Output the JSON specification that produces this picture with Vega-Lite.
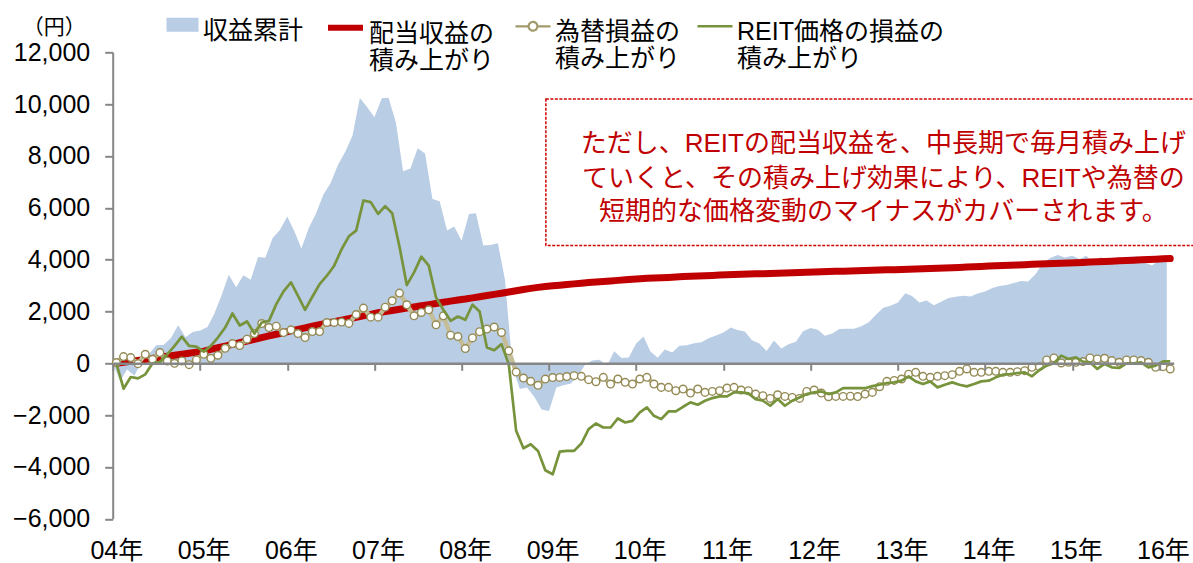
{
  "$schema": "https://vega.github.io/schema/vega-lite/v6.json",
  "width": 1061,
  "height": 466.5,
  "autosize": {"type": "none"},
  "padding": {"left": 112.7, "top": 52.3, "right": 19.3, "bottom": 44.2},
  "background": "white",
  "config": {
    "view": {"stroke": null},
    "font": "Liberation Sans, Noto Sans CJK JP",
    "legend": {
      "orient": "none", "direction": "horizontal", "title": null, "padding": 0,
      "labelOffset": 3, "labelLimit": 0, "labelFont": "Liberation Sans, Noto Sans CJK JP",
      "labelFontSize": 25, "labelColor": "#000000", "labelBaseline": "top", "symbolSize": 1225
    }
  },
  "datasets": {
    "m": [
      {"d":"2004-01","a":30,"r":0,"t":30,"g":0},
      {"d":"2004-02","a":-682,"r":40,"t":258,"g":-980},
      {"d":"2004-03","a":-235,"r":75,"t":219,"g":-529},
      {"d":"2004-04","a":-483,"r":110,"t":-13,"g":-580},
      {"d":"2004-05","a":72,"r":150,"t":348,"g":-426},
      {"d":"2004-06","a":345,"r":190,"t":155,"g":0},
      {"d":"2004-07","a":695,"r":230,"t":413,"g":52},
      {"d":"2004-08","a":708,"r":270,"t":90,"g":348},
      {"d":"2004-09","a":981,"r":310,"t":0,"g":671},
      {"d":"2004-10","a":1472,"r":350,"t":90,"g":1032},
      {"d":"2004-11","a":1009,"r":390,"t":-52,"g":671},
      {"d":"2004-12","a":1204,"r":430,"t":129,"g":645},
      {"d":"2005-01","a":1270,"r":470,"t":348,"g":452},
      {"d":"2005-02","a":1400,"r":535,"t":194,"g":671},
      {"d":"2005-03","a":1903,"r":600,"t":310,"g":993},
      {"d":"2005-04","a":2625,"r":665,"t":580,"g":1380},
      {"d":"2005-05","a":3413,"r":730,"t":761,"g":1922},
      {"d":"2005-06","a":2937,"r":795,"t":684,"g":1458},
      {"d":"2005-07","a":3401,"r":860,"t":929,"g":1612},
      {"d":"2005-08","a":3221,"r":925,"t":1148,"g":1148},
      {"d":"2005-09","a":4099,"r":990,"t":1535,"g":1574},
      {"d":"2005-10","a":4073,"r":1055,"t":1380,"g":1638},
      {"d":"2005-11","a":4835,"r":1120,"t":1432,"g":2283},
      {"d":"2005-12","a":5145,"r":1185,"t":1187,"g":2773},
      {"d":"2006-01","a":5662,"r":1250,"t":1290,"g":3122},
      {"d":"2006-02","a":5064,"r":1310,"t":1148,"g":2606},
      {"d":"2006-03","a":4427,"r":1370,"t":993,"g":2064},
      {"d":"2006-04","a":5223,"r":1430,"t":1226,"g":2567},
      {"d":"2006-05","a":5773,"r":1490,"t":1226,"g":3057},
      {"d":"2006-06","a":6504,"r":1550,"t":1574,"g":3380},
      {"d":"2006-07","a":6951,"r":1610,"t":1574,"g":3767},
      {"d":"2006-08","a":7655,"r":1665,"t":1590,"g":4400},
      {"d":"2006-09","a":8160,"r":1720,"t":1540,"g":4900},
      {"d":"2006-10","a":8779,"r":1775,"t":1883,"g":5121},
      {"d":"2006-11","a":10241,"r":1830,"t":2129,"g":6282},
      {"d":"2006-12","a":9888,"r":1890,"t":1780,"g":6218},
      {"d":"2007-01","a":9496,"r":1950,"t":1780,"g":5766},
      {"d":"2007-02","a":10225,"r":1995,"t":2167,"g":6063},
      {"d":"2007-03","a":10244,"r":2040,"t":2412,"g":5792},
      {"d":"2007-04","a":9294,"r":2085,"t":2709,"g":4500},
      {"d":"2007-05","a":7407,"r":2130,"t":2258,"g":3019},
      {"d":"2007-06","a":7516,"r":2175,"t":1832,"g":3509},
      {"d":"2007-07","a":8296,"r":2220,"t":1961,"g":4115},
      {"d":"2007-08","a":8096,"r":2265,"t":2064,"g":3767},
      {"d":"2007-09","a":6335,"r":2310,"t":1484,"g":2541},
      {"d":"2007-10","a":6251,"r":2355,"t":1832,"g":2064},
      {"d":"2007-11","a":5122,"r":2400,"t":1084,"g":1638},
      {"d":"2007-12","a":5278,"r":2440,"t":1032,"g":1806},
      {"d":"2008-01","a":4725,"r":2480,"t":568,"g":1677},
      {"d":"2008-02","a":5763,"r":2525,"t":980,"g":2258},
      {"d":"2008-03","a":5790,"r":2570,"t":1220,"g":2000},
      {"d":"2008-04","a":4545,"r":2615,"t":1320,"g":610},
      {"d":"2008-05","a":4560,"r":2660,"t":1400,"g":500},
      {"d":"2008-06","a":4635,"r":2705,"t":1190,"g":740},
      {"d":"2008-07","a":3200,"r":2750,"t":480,"g":-30},
      {"d":"2008-08","a":-146,"r":2800,"t":-340,"g":-2606},
      {"d":"2008-09","a":-995,"r":2850,"t":-568,"g":-3277},
      {"d":"2008-10","a":-929,"r":2890,"t":-697,"g":-3122},
      {"d":"2008-11","a":-1300,"r":2930,"t":-850,"g":-3380},
      {"d":"2008-12","a":-1778,"r":2960,"t":-610,"g":-4128},
      {"d":"2009-01","a":-1843,"r":2990,"t":-550,"g":-4283},
      {"d":"2009-02","a":-936,"r":3015,"t":-545,"g":-3406},
      {"d":"2009-03","a":-850,"r":3040,"t":-510,"g":-3380},
      {"d":"2009-04","a":-792,"r":3065,"t":-477,"g":-3380},
      {"d":"2009-05","a":-509,"r":3090,"t":-503,"g":-3096},
      {"d":"2009-06","a":-58,"r":3115,"t":-632,"g":-2541},
      {"d":"2009-07","a":108,"r":3140,"t":-710,"g":-2322},
      {"d":"2009-08","a":141,"r":3160,"t":-542,"g":-2477},
      {"d":"2009-09","a":-97,"r":3180,"t":-800,"g":-2477},
      {"d":"2009-10","a":466,"r":3200,"t":-606,"g":-2128},
      {"d":"2009-11","a":202,"r":3220,"t":-735,"g":-2283},
      {"d":"2009-12","a":226,"r":3245,"t":-800,"g":-2219},
      {"d":"2010-01","a":763,"r":3265,"t":-606,"g":-1896},
      {"d":"2010-02","a":1035,"r":3280,"t":-542,"g":-1703},
      {"d":"2010-03","a":465,"r":3290,"t":-800,"g":-2025},
      {"d":"2010-04","a":217,"r":3300,"t":-929,"g":-2154},
      {"d":"2010-05","a":528,"r":3315,"t":-929,"g":-1858},
      {"d":"2010-06","a":414,"r":3330,"t":-1058,"g":-1858},
      {"d":"2010-07","a":675,"r":3345,"t":-993,"g":-1677},
      {"d":"2010-08","a":698,"r":3355,"t":-1148,"g":-1509},
      {"d":"2010-09","a":772,"r":3365,"t":-993,"g":-1600},
      {"d":"2010-10","a":808,"r":3375,"t":-1122,"g":-1445},
      {"d":"2010-11","a":964,"r":3390,"t":-1084,"g":-1342},
      {"d":"2010-12","a":1070,"r":3405,"t":-1058,"g":-1277},
      {"d":"2011-01","a":1188,"r":3420,"t":-955,"g":-1277},
      {"d":"2011-02","a":1379,"r":3430,"t":-929,"g":-1122},
      {"d":"2011-03","a":1286,"r":3440,"t":-1032,"g":-1122},
      {"d":"2011-04","a":1231,"r":3450,"t":-1058,"g":-1161},
      {"d":"2011-05","a":888,"r":3455,"t":-1187,"g":-1380},
      {"d":"2011-06","a":764,"r":3460,"t":-1251,"g":-1445},
      {"d":"2011-07","a":472,"r":3465,"t":-1355,"g":-1638},
      {"d":"2011-08","a":882,"r":3475,"t":-1213,"g":-1380},
      {"d":"2011-09","a":570,"r":3485,"t":-1277,"g":-1638},
      {"d":"2011-10","a":734,"r":3495,"t":-1316,"g":-1445},
      {"d":"2011-11","a":834,"r":3505,"t":-1355,"g":-1316},
      {"d":"2011-12","a":1241,"r":3512,"t":-1084,"g":-1187},
      {"d":"2012-01","a":1366,"r":3520,"t":-1032,"g":-1122},
      {"d":"2012-02","a":1298,"r":3530,"t":-1148,"g":-1084},
      {"d":"2012-03","a":1063,"r":3540,"t":-1290,"g":-1187},
      {"d":"2012-04","a":1151,"r":3550,"t":-1277,"g":-1122},
      {"d":"2012-05","a":1323,"r":3555,"t":-1277,"g":-955},
      {"d":"2012-06","a":1335,"r":3560,"t":-1270,"g":-955},
      {"d":"2012-07","a":1330,"r":3570,"t":-1285,"g":-955},
      {"d":"2012-08","a":1433,"r":3580,"t":-1187,"g":-960},
      {"d":"2012-09","a":1588,"r":3590,"t":-1122,"g":-880},
      {"d":"2012-10","a":1871,"r":3600,"t":-903,"g":-826},
      {"d":"2012-11","a":2147,"r":3605,"t":-697,"g":-761},
      {"d":"2012-12","a":2217,"r":3612,"t":-660,"g":-735},
      {"d":"2013-01","a":2343,"r":3620,"t":-606,"g":-671},
      {"d":"2013-02","a":2707,"r":3630,"t":-420,"g":-503},
      {"d":"2013-03","a":2595,"r":3640,"t":-348,"g":-697},
      {"d":"2013-04","a":2347,"r":3650,"t":-503,"g":-800},
      {"d":"2013-05","a":2421,"r":3660,"t":-542,"g":-697},
      {"d":"2013-06","a":2238,"r":3670,"t":-503,"g":-929},
      {"d":"2013-07","a":2377,"r":3680,"t":-477,"g":-826},
      {"d":"2013-08","a":2516,"r":3690,"t":-439,"g":-735},
      {"d":"2013-09","a":2564,"r":3700,"t":-310,"g":-826},
      {"d":"2013-10","a":2603,"r":3712,"t":-219,"g":-890},
      {"d":"2013-11","a":2577,"r":3725,"t":-348,"g":-800},
      {"d":"2013-12","a":2693,"r":3738,"t":-348,"g":-697},
      {"d":"2014-01","a":2769,"r":3750,"t":-310,"g":-671},
      {"d":"2014-02","a":2908,"r":3760,"t":-310,"g":-542},
      {"d":"2014-03","a":2983,"r":3770,"t":-348,"g":-439},
      {"d":"2014-04","a":3019,"r":3780,"t":-348,"g":-413},
      {"d":"2014-05","a":3096,"r":3792,"t":-322,"g":-374},
      {"d":"2014-06","a":3173,"r":3805,"t":-284,"g":-348},
      {"d":"2014-07","a":3160,"r":3818,"t":-155,"g":-503},
      {"d":"2014-08","a":3443,"r":3830,"t":-129,"g":-258},
      {"d":"2014-09","a":3881,"r":3842,"t":129,"g":-90},
      {"d":"2014-10","a":4061,"r":3855,"t":206,"g":0},
      {"d":"2014-11","a":4175,"r":3865,"t":13,"g":297},
      {"d":"2014-12","a":4079,"r":3872,"t":39,"g":168},
      {"d":"2015-01","a":4151,"r":3880,"t":39,"g":232},
      {"d":"2015-02","a":4022,"r":3892,"t":65,"g":65},
      {"d":"2015-03","a":4150,"r":3905,"t":206,"g":39},
      {"d":"2015-04","a":3867,"r":3918,"t":168,"g":-219},
      {"d":"2015-05","a":4098,"r":3930,"t":194,"g":-26},
      {"d":"2015-06","a":3890,"r":3942,"t":103,"g":-155},
      {"d":"2015-07","a":3813,"r":3955,"t":39,"g":-181},
      {"d":"2015-08","a":4097,"r":3968,"t":129,"g":0},
      {"d":"2015-09","a":4109,"r":3980,"t":129,"g":0},
      {"d":"2015-10","a":4134,"r":3992,"t":103,"g":39},
      {"d":"2015-11","a":3889,"r":4005,"t":39,"g":-155},
      {"d":"2015-12","a":3773,"r":4018,"t":-155,"g":-90},
      {"d":"2016-01","a":3978,"r":4030,"t":-129,"g":77},
      {"d":"2016-02","a":3898,"r":4040,"t":-219,"g":77}
    ],
    "box": [{"x": "2008-12-19", "x2": "2017-06-01", "y": 10200, "y2": 4550}],
    "note": [
      {"x": "2012-11-01", "y": 8480, "text": "ただし、REITの配当収益を、中長期で毎月積み上げ"},
      {"x": "2012-11-01", "y": 7120, "text": "ていくと、その積み上げ効果により、REITや為替の"},
      {"x": "2012-11-01", "y": 5850, "text": "短期的な価格変動のマイナスがカバーされます。"}
    ]
  },
  "layer": [
    {
      "data": {"name": "m"},
      "mark": {"type": "area", "opacity": 1, "zindex": 0},
      "encoding": {
        "x": {
          "field": "d", "timeUnit": "utcyearmonth", "type": "temporal", "bandPosition": 0.5,
          "scale": {"type": "utc", "domain": [{"year": 2004, "month": 1, "date": 1, "utc": true}, {"year": 2016, "month": 3, "date": 1, "utc": true}]},
          "axis": {
            "orient": "bottom", "offset": -155.5, "title": null, "grid": false,
            "tickCount": {"interval": "year", "step": 1},
            "labelExpr": "utcFormat(datum.value, '%y') + '年'",
            "labelFont": "Liberation Sans, Noto Sans CJK JP", "labelFontSize": 25, "labelColor": "#000000",
            "labelOffset": 3.6, "labelPadding": 168.5, "labelFlush": false, "labelOverlap": false, "labelBound": false,
            "tickSize": 7, "tickWidth": 2, "tickColor": "#868686",
            "domainColor": "#868686", "domainWidth": 2.5, "zindex": 1
          }
        },
        "y": {
          "field": "a", "type": "quantitative",
          "scale": {"domain": [-6000, 12000], "nice": false, "zero": false},
          "axis": {
            "values": [-6000, -4000, -2000, 0, 2000, 4000, 6000, 8000, 10000, 12000],
            "format": ",.0f", "grid": false,
            "labelFont": "Liberation Sans", "labelFontSize": 25, "labelColor": "#000000", "labelPadding": 15,
            "tickSize": 8, "tickWidth": 2, "tickColor": "#868686",
            "domainColor": "#868686", "domainWidth": 2,
            "title": "（円）", "titleAngle": 0, "titleX": -59, "titleY": -25,
            "titleAlign": "center", "titleBaseline": "middle", "titleFont": "Noto Sans CJK JP",
            "titleFontSize": 21, "titleFontWeight": "normal", "titleColor": "#000000"
          }
        },
        "fill": {
          "datum": "収益累計", "type": "nominal",
          "scale": {"domain": ["収益累計"], "range": ["#B9CDE5"]},
          "legend": {
            "legendX": 52.3, "legendY": -51,
            "symbolType": "M-0.914,-0.057H0.914V0.743H-0.914Z", "symbolStrokeWidth": 0
          }
        }
      }
    },
    {
      "data": {"name": "m"},
      "mark": {"type": "line", "strokeWidth": 7, "strokeCap": "round", "strokeJoin": "round", "zindex": 2},
      "encoding": {
        "x": {"field": "d", "timeUnit": "utcyearmonth", "type": "temporal", "bandPosition": 0.5},
        "y": {"field": "r", "type": "quantitative"},
        "stroke": {
          "datum": "配当収益の積み上がり", "type": "nominal",
          "scale": {"domain": ["配当収益の積み上がり"], "range": ["#C00000"]},
          "legend": {
            "legendX": 212.3, "legendY": -51,
            "symbolType": "M-1,0.343H1", "symbolStrokeWidth": 6,
            "labelExpr": "['配当収益の', '積み上がり']"
          }
        }
      }
    },
    {
      "data": {"name": "m"},
      "mark": {"type": "line", "stroke": "#C4BD97", "strokeWidth": 4.5, "strokeJoin": "round", "zindex": 2},
      "encoding": {
        "x": {"field": "d", "timeUnit": "utcyearmonth", "type": "temporal", "bandPosition": 0.5},
        "y": {"field": "t", "type": "quantitative"},
        "strokeDash": {
          "datum": "為替損益の積み上がり", "type": "nominal",
          "scale": {"domain": ["為替損益の積み上がり"], "range": [[1, 0]]},
          "legend": {
            "legendX": 401.3, "legendY": -51,
            "symbolType": "M-1,0.343H-0.25M0.25,0.343H1M-0.25,0.343A0.25,0.25,0,1,1,0.25,0.343A0.25,0.25,0,1,1,-0.25,0.343Z",
            "symbolStrokeWidth": 2.2, "symbolFillColor": "#ffffff", "symbolStrokeColor": "#A39A6C",
            "labelExpr": "['為替損益の', '積み上がり']"
          }
        }
      }
    },
    {
      "data": {"name": "m"},
      "mark": {"type": "point", "shape": "circle", "filled": true, "fill": "#ffffff", "stroke": "#948A54", "strokeWidth": 1.4, "size": 58, "opacity": 1, "zindex": 2},
      "encoding": {
        "x": {"field": "d", "timeUnit": "utcyearmonth", "type": "temporal", "bandPosition": 0.5},
        "y": {"field": "t", "type": "quantitative"}
      }
    },
    {
      "data": {"name": "m"},
      "mark": {"type": "line", "strokeWidth": 2.7, "strokeJoin": "round", "zindex": 2},
      "encoding": {
        "x": {"field": "d", "timeUnit": "utcyearmonth", "type": "temporal", "bandPosition": 0.5},
        "y": {"field": "g", "type": "quantitative"},
        "color": {
          "datum": "REIT価格の損益の積み上がり", "type": "nominal",
          "scale": {"domain": ["REIT価格の損益の積み上がり"], "range": ["#77933C"]},
          "legend": {
            "legendX": 583.3, "legendY": -51,
            "symbolType": "M-1,0.343H1", "symbolStrokeWidth": 2.5,
            "labelExpr": "['REIT価格の損益の', '積み上がり']"
          }
        }
      }
    },
    {
      "data": {"name": "box"},
      "mark": {"type": "rect", "fill": "#ffffff", "stroke": "#D00000", "strokeWidth": 1.5, "strokeDash": [3, 1.5], "zindex": 3},
      "encoding": {
        "x": {"field": "x", "type": "temporal"},
        "x2": {"field": "x2"},
        "y": {"field": "y", "type": "quantitative"},
        "y2": {"field": "y2"}
      }
    },
    {
      "data": {"name": "note"},
      "mark": {"type": "text", "align": "center", "baseline": "middle", "font": "Liberation Sans, Noto Sans CJK JP", "fontSize": 26, "color": "#C00000", "zindex": 4},
      "encoding": {
        "x": {"field": "x", "type": "temporal"},
        "y": {"field": "y", "type": "quantitative"},
        "text": {"field": "text"}
      }
    }
  ]
}
